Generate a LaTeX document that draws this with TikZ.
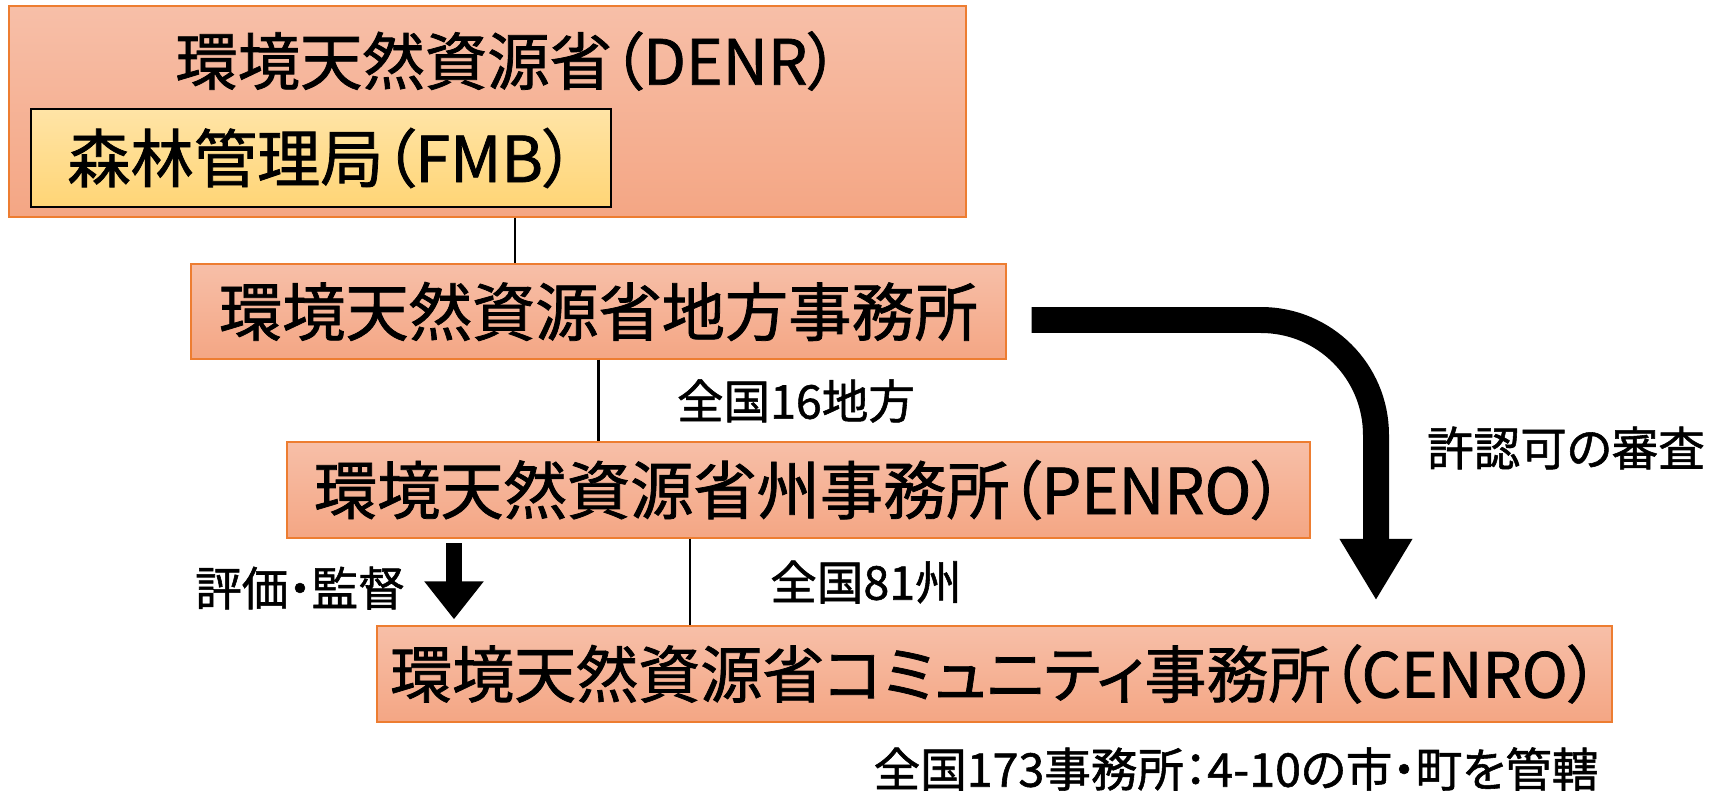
\documentclass[tikz,border=0pt]{standalone}
\usepackage{fontspec}
\setmainfont{Noto Sans CJK JP}[RawFeature=+palt, FakeBold=1.2]
\usetikzlibrary{arrows.meta}
\usetikzlibrary{positioning}

\definecolor{boxtop}{RGB}{247,191,168}
\definecolor{boxbot}{RGB}{244,166,132}
\definecolor{boxline}{RGB}{237,125,49}
\definecolor{fmbtop}{RGB}{255,228,166}
\definecolor{fmbbot}{RGB}{255,213,118}

\begin{document}
\begin{tikzpicture}[x=0.02cm, y=-0.02cm,
		orgbox/.style={draw=boxline, line width=0.8pt, top color=boxtop, bottom color=boxbot, inner sep=0pt, font=\fontsize{36}{40}\selectfont},
		fmbbox/.style={draw=black, line width=0.8pt, top color=fmbtop, bottom color=fmbbot, inner sep=0pt, font=\fontsize{36}{40}\selectfont},
		note/.style={inner sep=0pt, font=\fontsize{26.5}{30}\selectfont},
		link/.style={line width=1.6pt},
		permit/.style={line width=0.52cm, rounded corners=2.3cm, -{Triangle[width=1.37cm, length=1.23cm]}},
		evalarrow/.style={line width=0.32cm, -{Triangle[width=1.14cm, length=0.76cm]}}]
		\useasboundingbox (0,0) rectangle (1729,794);
		
		% ministry and bureau
		\node[orgbox, minimum width=19.14cm, minimum height=4.22cm] (denr) at (487.5,111.5) {};
		\node[inner sep=0pt, font=\fontsize{35.5}{40}\selectfont] (denrtitle) at (507,61) {環境天然資源省（DENR）};
		\node[fmbbox, minimum width=11.6cm, minimum height=1.96cm] (fmb) at (321,158) {森林管理局（FMB）};
		
		% offices
		\node[orgbox, minimum width=16.3cm, minimum height=1.9cm] (region) at (598.5,311.5) {環境天然資源省地方事務所};
		\node[orgbox, minimum width=20.46cm, minimum height=1.92cm] (penro) at (798.5,490) {環境天然資源省州事務所（PENRO）};
		\node[orgbox, minimum width=24.7cm, minimum height=1.92cm, font=\fontsize{35.3}{40}\selectfont] (cenro) at (994.5,674) {環境天然資源省コミュニティ事務所（CENRO）};
		
		% links
		\draw[link] ([xshift=0.55cm]denr.south) -- ([xshift=0.55cm]denr.south |- region.north);
		\draw[link] (region.south) -- (region.south |- penro.north);
		\draw[link] ([xshift=-2.17cm]penro.south) -- ([xshift=-2.17cm]penro.south |- cenro.north);
		
		% arrows
		\coordinate (bend) at (1376,320);
		\draw[permit] ([xshift=0.5cm, yshift=-0.17cm]region.east) -- (bend) -- ([yshift=0.5cm]bend |- cenro.north);
		\coordinate (evaltop) at (454,543);
		\draw[evalarrow] (evaltop) -- ([yshift=0.12cm]evaltop |- cenro.north);
		
		% labels
		\node[note] (regioncount) at (796,401) {全国16地方};
		\node[note] (penrocount) at (866,582) {全国81州};
		\node[note] (evallabel) at (300,588) {評価・監督};
		\node[note] (permitlabel) at (1566,448) {許認可の審査};
		\node[note] (cenrocount) at (1236,769) {全国173事務所：4-10の市・町を管轄};
	\end{tikzpicture}
\end{document}
